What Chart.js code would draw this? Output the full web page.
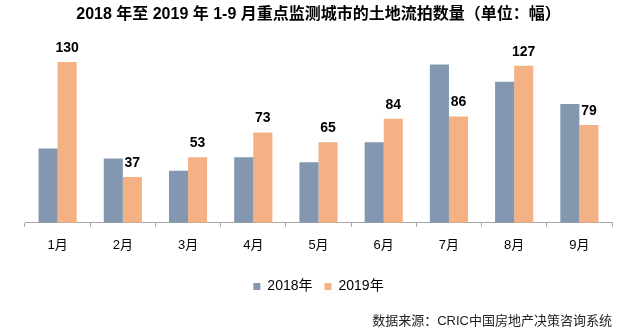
<!DOCTYPE html>
<html>
<head>
<meta charset="utf-8">
<title>土地流拍数量</title>
<script src="https://cdn.jsdelivr.net/npm/chart.js@4.4.0/dist/chart.umd.min.js"></script>
<style>
    body { margin: 0; background: #fff; }
    canvas { display: block; }
</style>
</head>
<body>
<canvas id="GraficoFlowLand" width="626" height="335"></canvas>
<script>
// dados
var meses = ['1月', '2月', '3月', '4月', '5月', '6月', '7月', '8月', '9月'];
var valores2018 = [60, 52, 42, 53, 49, 65, 128, 114, 96];
var valores2019 = [130, 37, 53, 73, 65, 84, 86, 127, 79];
var series = ['2018年', '2019年'];

var fonte = "'Liberation Sans', 'Noto Sans CJK SC', sans-serif";

// rotulos em cima das barras de 2019
var rotulosPlugin = {
    id: 'rotulos',
    afterDatasetsDraw: function (chart) {
        var ctx = chart.ctx;
        var meta = chart.getDatasetMeta(1);
        ctx.save();
        ctx.font = 'bold 14px ' + fonte;
        ctx.fillStyle = '#000';
        ctx.textAlign = 'center';
        ctx.textBaseline = 'alphabetic';
        meta.data.forEach(function (bar, i) {
            ctx.fillText(valores2019[i], bar.x, bar.y - 10);
        });
        ctx.restore();
    }
};

var ctx = document.getElementById('GraficoFlowLand').getContext('2d');

var grafico = new Chart(ctx, {
    type: 'bar',
    data:
    {
        labels: meses,
        datasets:
            [{
                label: series[0],
                backgroundColor: '#8497B0',
                data: valores2018
            },
            {
                label: series[1],
                backgroundColor: '#F4B183',
                data: valores2019
            }]
    },
    options:
    {
        responsive: false,
        animation: false,
        layout: { padding: { left: 25, right: 14, top: 0, bottom: 0 } },
        datasets: { bar: { categoryPercentage: 0.585, barPercentage: 1 } },
        scales: {
            x: {
                grid: { drawOnChartArea: false, drawTicks: true, tickLength: 4, color: '#A6A6A6' },
                border: { display: true, color: '#A6A6A6', width: 1 },
                ticks: { color: '#000', font: { size: 13, family: fonte }, padding: 11 },
                afterFit: function (scale) { scale.height += 3; }
            },
            y: {
                display: false,
                min: 0,
                max: 150
            }
        },
        plugins: {
            title: {
                display: true,
                text: '2018 年至 2019 年 1-9 月重点监测城市的土地流拍数量（单位：幅）',
                color: '#000',
                font: { size: 16, weight: 'bold', family: fonte },
                padding: { top: 5, bottom: 13 }
            },
            subtitle: {
                display: true,
                position: 'bottom',
                align: 'end',
                text: '数据来源：CRIC中国房地产决策咨询系统',
                color: '#222',
                font: { size: 13, family: fonte },
                padding: { top: 10, bottom: 6 }
            },
            legend: {
                position: 'bottom',
                labels: {
                    boxWidth: 7,
                    boxHeight: 7,
                    padding: 12,
                    color: '#000',
                    font: { size: 14, family: fonte }
                }
            },
            tooltip: { enabled: false }
        }
    },
    plugins: [rotulosPlugin]
});
</script>
</body>
</html>
